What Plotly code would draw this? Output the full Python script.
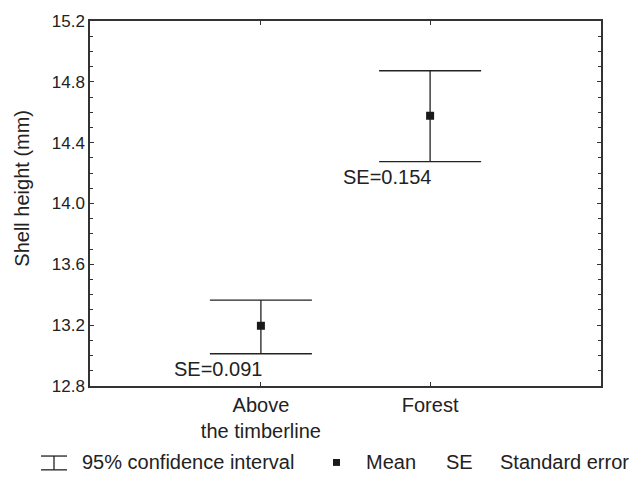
import plotly.graph_objects as go

# ---- data ----
categories = ["Above<br>the timberline", "Forest"]
means = [13.196, 14.577]
ci_low = [13.012, 14.276]
ci_high = [13.365, 14.873]
se_labels = ["SE=0.091", "SE=0.154"]
y_ticks = [12.8, 13.2, 13.6, 14.0, 14.4, 14.8, 15.2]

# ---- layout constants ----
W, H = 632, 477
L, R, T, B = 90, 31, 16, 91
PW, PH = W - L - R, H - T - B
FONT = "Liberation Sans, Arial, sans-serif"
INK = "#222222"


def px(x):
    return (x - L) / PW


def py(y):
    return (H - B - y) / PH


fig = go.Figure()
fig.add_trace(go.Scatter(
    x=categories,
    y=means,
    mode="markers",
    marker=dict(symbol="square", size=8, color="#1a1a1a"),
    error_y=dict(
        type="data",
        symmetric=False,
        array=[h - m for h, m in zip(ci_high, means)],
        arrayminus=[m - l for m, l in zip(means, ci_low)],
        width=51,
        thickness=1.3,
        color=INK,
    ),
    showlegend=False,
))

annotations = []
for c, lo, lab in zip(categories, ci_low, se_labels):
    annotations.append(dict(
        x=c, y=lo, xref="x", yref="y", text=lab, showarrow=False,
        xanchor="right", yanchor="top", xshift=3, yshift=-2,
        font=dict(family=FONT, size=20, color=INK),
    ))

# y-axis title
annotations.append(dict(
    x=px(22), y=py(186), xref="paper", yref="paper", text="Shell height (mm)",
    textangle=-90, showarrow=False, xanchor="center", yanchor="middle",
    font=dict(family=FONT, size=20, color=INK),
))

# legend texts
leg_y = py(463)
for xpos, txt in [(80, "95% confidence interval"), (364, "Mean"),
                  (444, "SE"), (498, "Standard error")]:
    annotations.append(dict(
        x=px(xpos), y=leg_y, xref="paper", yref="paper", text=txt,
        showarrow=False, xanchor="left", yanchor="middle",
        font=dict(family=FONT, size=20, color=INK),
    ))

shapes = [
    # CI glyph
    dict(type="line", xref="paper", yref="paper", x0=px(41), x1=px(67), y0=py(457), y1=py(457),
         line=dict(color=INK, width=1.3)),
    dict(type="line", xref="paper", yref="paper", x0=px(41), x1=px(67), y0=py(471), y1=py(471),
         line=dict(color=INK, width=1.3)),
    dict(type="line", xref="paper", yref="paper", x0=px(54), x1=px(54), y0=py(457), y1=py(471),
         line=dict(color=INK, width=1.3)),
    # mean glyph
    dict(type="rect", xref="paper", yref="paper", x0=px(333), x1=px(340), y0=py(460), y1=py(467),
         fillcolor="#1a1a1a", line=dict(width=0)),
]

fig.update_layout(
    width=W, height=H,
    margin=dict(l=L, r=R, t=T, b=B),
    paper_bgcolor="white", plot_bgcolor="white",
    font=dict(family=FONT, size=17, color=INK),
    annotations=annotations,
    shapes=shapes,
    xaxis=dict(
        type="category", range=[-1.01, 2.01],
        showline=True, linecolor="#333333", linewidth=1.5, mirror="ticks",
        ticks="inside", ticklen=4, tickcolor="#333333",
        showgrid=False, zeroline=False,
        tickfont=dict(family=FONT, size=20, color=INK),
    ),
    yaxis=dict(
        range=[12.8, 15.2], tickvals=y_ticks, tickformat=".1f",
        showline=True, linecolor="#333333", linewidth=1.5, mirror="ticks",
        ticks="inside", ticklen=4, tickcolor="#333333",
        showgrid=False, zeroline=False,
        tickfont=dict(family=FONT, size=17, color=INK),
        minor=dict(dtick=0.1, tick0=12.8, ticks="inside", ticklen=3, tickcolor="#333333", showgrid=False),
    ),
)

fig.write_html("out.html")
